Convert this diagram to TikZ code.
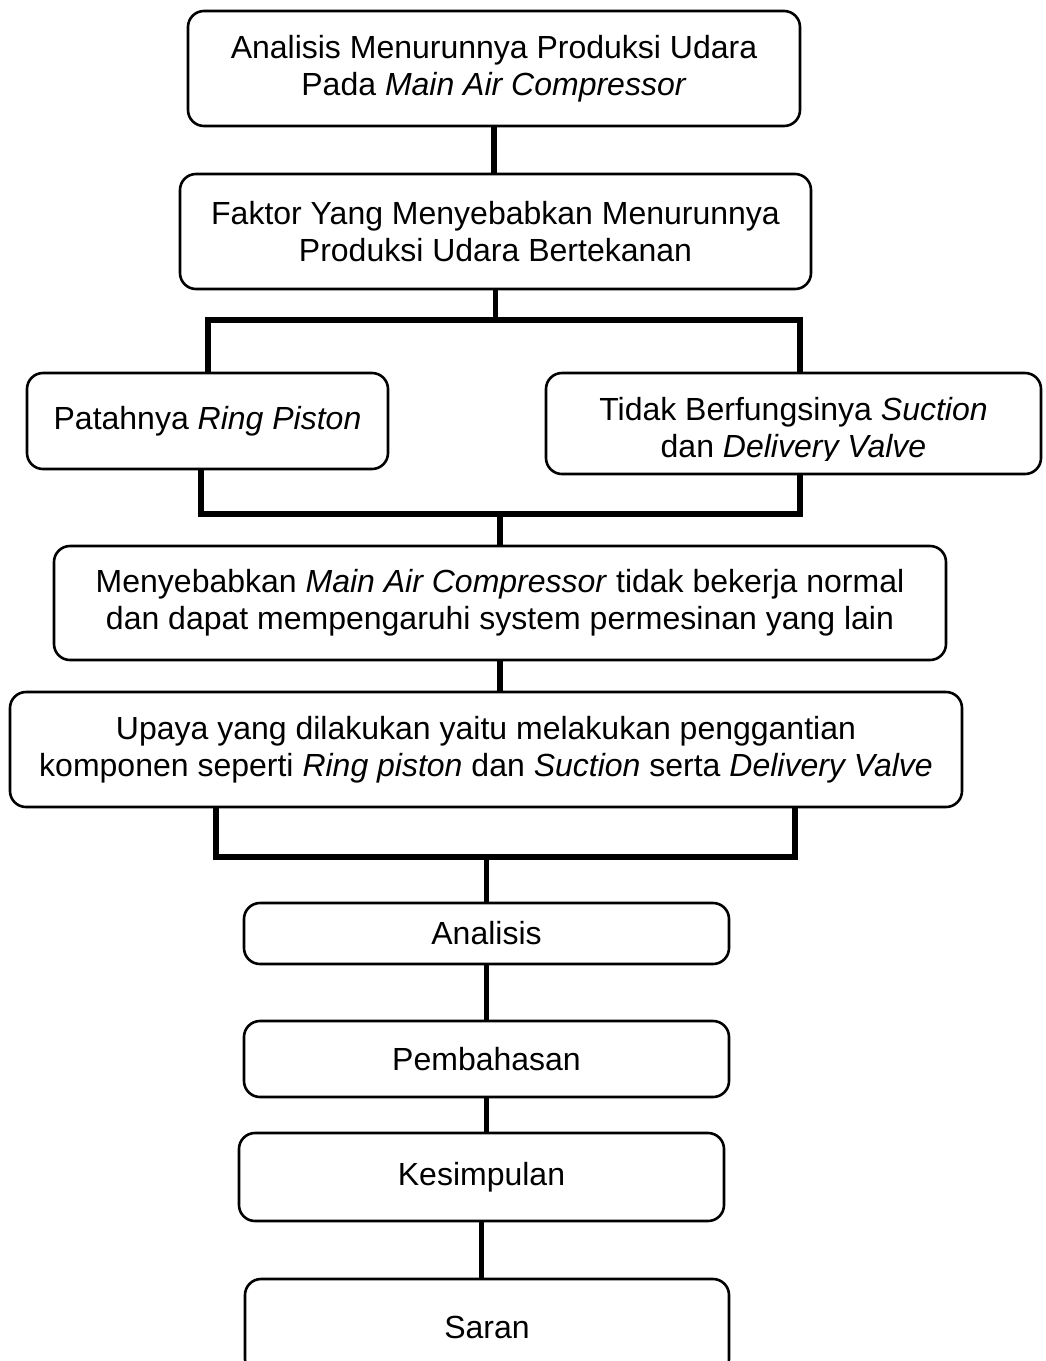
\documentclass[tikz,border=0pt]{standalone}
\usepackage{fontspec}
\setmainfont{Liberation Sans}
\usetikzlibrary{calc}

\begin{document}
\begin{tikzpicture}[x=1pt,y=-1pt,
  kotak/.style={draw,line width=2.6pt,rounded corners=16pt,align=center,inner sep=0pt,
    font=\fontsize{32}{37}\selectfont},
  tulisan/.style={align=center,inner sep=0pt,font=\fontsize{32}{37}\selectfont},
  garis/.style={line width=5.5pt}]
\useasboundingbox (0,0) rectangle (1046,1361);

\node[kotak,minimum width=612pt,minimum height=115pt] (analisis) at (494,68.5)
  {Analisis Menurunnya Produksi Udara\\Pada \textit{Main Air Compressor}};
\node[kotak,minimum width=631pt,minimum height=115pt] (faktor) at (495.5,231.5)
  {Faktor Yang Menyebabkan Menurunnya\\Produksi Udara Bertekanan};
\node[kotak,minimum width=361pt,minimum height=96pt] (patah) at (207.5,421)
  {Patahnya \textit{Ring Piston}};
\node[kotak,minimum width=495pt,minimum height=101pt] (tidak) at (793.5,423.5) {};
\begin{scope}
\clip (tidak.north west) rectangle ($(tidak.south east)+(0,-15)$);
\node[tulisan] (tidakteks) at ($(tidak)+(0,7)$)
  {Tidak Berfungsinya \textit{Suction}\\dan \textit{Delivery Valve}};
\end{scope}
\node[kotak,minimum width=892pt,minimum height=114pt] (akibat) at (500,603)
  {Menyebabkan \textit{Main Air Compressor} tidak bekerja normal\\dan dapat mempengaruhi system permesinan yang lain};
\node[kotak,minimum width=952pt,minimum height=115pt] (upaya) at (486,749.5)
  {Upaya yang dilakukan yaitu melakukan penggantian\\komponen seperti \textit{Ring piston} dan \textit{Suction} serta \textit{Delivery Valve}};
\node[kotak,minimum width=485pt,minimum height=61pt] (hasil) at (486.5,933.5) {Analisis};
\node[kotak,minimum width=485pt,minimum height=76pt] (pembahasan) at (486.5,1059) {Pembahasan};
\node[kotak,minimum width=485pt,minimum height=88pt] (kesimpulan) at (481.5,1177) {Kesimpulan};
\node[kotak,minimum width=484pt,minimum height=96pt] (saran) at (487,1327) {Saran};

\coordinate (cabangkiri) at (208,320);
\coordinate (cabangkanan) at (800,320);
\coordinate (gabungkiri) at (201,514);
\coordinate (gabungkanan) at (800,514);
\coordinate (turunkiri) at (216,857);
\coordinate (turunkanan) at (795,857);

\draw[garis] (analisis.south) -- (analisis.south |- faktor.north);
\draw[garis] (faktor.south) -- (faktor.south |- cabangkiri);
\draw[garis] (patah.north -| cabangkiri) -- (cabangkiri) -- (cabangkanan) -- (cabangkanan |- tidak.north);
\draw[garis] (patah.south -| gabungkiri) -- (gabungkiri) -- (gabungkanan) -- (gabungkanan |- tidak.south);
\draw[garis] (akibat.north |- gabungkiri) -- (akibat.north);
\draw[garis] (akibat.south) -- (akibat.south |- upaya.north);
\draw[garis] (upaya.south -| turunkiri) -- (turunkiri) -- (turunkanan) -- (turunkanan |- upaya.south);
\draw[garis] (hasil.north |- turunkiri) -- (hasil.north);
\draw[garis] (hasil.south) -- (pembahasan.north);
\draw[garis] (pembahasan.south) -- (pembahasan.south |- kesimpulan.north);
\draw[garis] (kesimpulan.south) -- (kesimpulan.south |- saran.north);
\end{tikzpicture}
\end{document}
